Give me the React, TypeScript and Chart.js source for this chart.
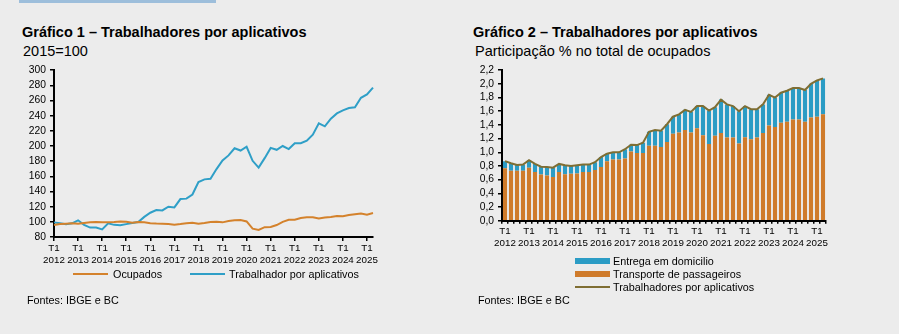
import React, { useEffect, useRef } from 'react';
import { Chart, registerables } from 'chart.js';

Chart.register(...registerables);

const FONT = '"Liberation Sans", Arial, Helvetica, sans-serif';

// Quarters 2012 T1 .. 2025 T2
const years = [2012, 2013, 2014, 2015, 2016, 2017, 2018, 2019, 2020, 2021, 2022, 2023, 2024, 2025];
const quarterNames = ['T1', 'T2', 'T3', 'T4'];

// Gráfico 1 – índice 2015=100
const ocupados = [
  95.8, 97, 97.5, 98, 97.5, 98.4, 99.3, 99.7, 99.3, 99.3, 99.7, 100.5, 100, 98.8, 99.7, 99.3,
  98.2, 97.8, 97.6, 97, 96.3, 97, 98, 98.9, 97.6, 98.4, 99.7, 100, 99.3, 101, 102, 102.5,
  100.5, 91, 89.2, 93, 93.3, 95.8, 100, 102.7, 102.7, 105, 106, 106, 104.4, 105.7, 106.5, 107.8,
  107.4, 109, 110, 111, 109.5, 111.7,
];
const trabalhadorAplicativos = [
  99.3, 98, 96.7, 98, 102, 96, 92.4, 92.4, 90, 98, 96, 95.4, 97, 98.4, 99.7, 106.5,
  112, 115.5, 115, 120, 119, 130, 130.6, 136, 152.5, 156, 156.8, 169.6, 181, 187.6, 197, 194,
  199, 180.5, 171.5, 184, 197.5, 195, 200, 196, 203.7, 203.7, 207, 215, 230, 226, 236, 243,
  247, 250, 251, 263.6, 268, 277,
];

// Gráfico 2 – participação % no total de ocupados
const transportePassageiros = [
  0.765, 0.73, 0.73, 0.73, 0.775, 0.71, 0.675, 0.66, 0.64, 0.71, 0.68, 0.685, 0.69, 0.71, 0.71, 0.74,
  0.785, 0.87, 0.895, 0.895, 0.91, 1.01, 0.99, 0.99, 1.095, 1.095, 1.076, 1.15, 1.27, 1.29, 1.325, 1.29,
  1.35, 1.25, 1.12, 1.24, 1.28, 1.215, 1.215, 1.13, 1.22, 1.19, 1.215, 1.28, 1.39, 1.37, 1.43, 1.445,
  1.48, 1.48, 1.445, 1.51, 1.52, 1.555,
];
const entregaDomicilio = [
  0.105, 0.11, 0.085, 0.09, 0.11, 0.12, 0.115, 0.125, 0.135, 0.12, 0.13, 0.115, 0.12, 0.11, 0.11, 0.115,
  0.145, 0.11, 0.105, 0.105, 0.135, 0.1, 0.115, 0.15, 0.205, 0.23, 0.24, 0.26, 0.25, 0.265, 0.295, 0.3,
  0.325, 0.425, 0.49, 0.42, 0.49, 0.485, 0.46, 0.47, 0.455, 0.44, 0.415, 0.42, 0.45, 0.43, 0.44, 0.455,
  0.46, 0.46, 0.465, 0.49, 0.53, 0.525,
];
const aplicativosParticipacao = [
  0.87, 0.84, 0.815, 0.82, 0.885, 0.83, 0.79, 0.785, 0.775, 0.83, 0.81, 0.8, 0.81, 0.82, 0.82, 0.855,
  0.93, 0.98, 1.0, 1.0, 1.045, 1.11, 1.105, 1.14, 1.3, 1.325, 1.315, 1.41, 1.52, 1.555, 1.62, 1.59,
  1.675, 1.675, 1.61, 1.66, 1.77, 1.7, 1.675, 1.6, 1.675, 1.63, 1.63, 1.7, 1.84, 1.8, 1.87, 1.9,
  1.94, 1.94, 1.91, 2.0, 2.05, 2.08,
];

const categories: (string | string[])[] = [];
years.forEach((y) =>
  quarterNames.forEach((q, qi) => categories.push(qi === 0 ? [q, String(y)] : ''))
);
const labels = categories.slice(0, ocupados.length);

const C_BLUE_LINE = '#2f9fc7';
const C_ORANGE_LINE = '#d4822c';
const C_BLUE_BAR = '#2b9cc5';
const C_ORANGE_BAR = '#cf7b2b';
const C_OLIVE = '#7f6e33';
const BG = '#ececec';

const xTickFont = { family: FONT, size: 9.8, lineHeight: 1.22 };
const yTickFont = { family: FONT, size: 10.3 };

function Chart1() {
  const ref = useRef<HTMLCanvasElement | null>(null);
  useEffect(() => {
    if (!ref.current) return;
    const chart = new Chart(ref.current, {
      type: 'line',
      data: {
        labels,
        datasets: [
          {
            label: 'Ocupados',
            data: ocupados,
            borderColor: C_ORANGE_LINE,
            borderWidth: 2,
            pointRadius: 0,
            tension: 0,
          },
          {
            label: 'Trabalhador por aplicativos',
            data: trabalhadorAplicativos,
            borderColor: C_BLUE_LINE,
            borderWidth: 2,
            pointRadius: 0,
            tension: 0,
          },
        ],
      },
      options: {
        animation: false,
        responsive: false,
        maintainAspectRatio: false,
        layout: { padding: { left: 0, right: 17, top: 6, bottom: 0 } },
        plugins: { legend: { display: false }, tooltip: { enabled: false } },
        scales: {
          x: {
            type: 'category',
            offset: false,
            grid: {
              display: true,
              drawOnChartArea: false,
              drawTicks: true,
              tickLength: 4,
              lineWidth: 1.5,
              color: (ctx: any) => (ctx.index % 4 === 0 ? '#000' : 'rgba(0,0,0,0)'),
            },
            border: { display: true, color: '#000', width: 2 },
            ticks: {
              autoSkip: false,
              maxRotation: 0,
              minRotation: 0,
              padding: 1,
              color: '#000',
              font: xTickFont,
            },
            afterFit: (s: any) => {
              s.height = 33;
            },
          },
          y: {
            min: 80,
            max: 300,
            grid: {
              display: true,
              drawOnChartArea: false,
              drawTicks: true,
              tickLength: 4,
              lineWidth: 1.5,
              color: '#000',
            },
            border: { display: true, color: '#000', width: 2 },
            ticks: { stepSize: 20, autoSkip: false, padding: 4, color: '#000', font: yTickFont },
            afterFit: (s: any) => {
              s.width = 54;
            },
          },
        },
      },
    } as any);
    return () => chart.destroy();
  }, []);
  return (
    <canvas
      ref={ref}
      width={390}
      height={210}
      style={{ position: 'absolute', left: 0, top: 60, width: 390, height: 210 }}
    />
  );
}

function Chart2() {
  const ref = useRef<HTMLCanvasElement | null>(null);
  useEffect(() => {
    if (!ref.current) return;
    const chart = new Chart(ref.current, {
      type: 'bar',
      data: {
        labels,
        datasets: [
          {
            type: 'line',
            label: 'Trabalhadores por aplicativos',
            data: aplicativosParticipacao,
            borderColor: C_OLIVE,
            borderWidth: 2,
            pointRadius: 0,
            tension: 0,
            stack: 'total',
            order: 0,
          },
          {
            type: 'bar',
            label: 'Transporte de passageiros',
            data: transportePassageiros,
            backgroundColor: C_ORANGE_BAR,
            stack: 'bars',
            order: 1,
            categoryPercentage: 1,
            barPercentage: 0.68,
          },
          {
            type: 'bar',
            label: 'Entrega em domicilio',
            data: entregaDomicilio,
            backgroundColor: C_BLUE_BAR,
            stack: 'bars',
            order: 1,
            categoryPercentage: 1,
            barPercentage: 0.68,
          },
        ],
      },
      options: {
        animation: false,
        responsive: false,
        maintainAspectRatio: false,
        layout: { padding: { left: 0, right: 14, top: 7, bottom: 0 } },
        plugins: { legend: { display: false }, tooltip: { enabled: false } },
        scales: {
          x: {
            type: 'category',
            stacked: true,
            offset: true,
            grid: {
              display: true,
              drawOnChartArea: false,
              drawTicks: true,
              tickLength: 3,
              lineWidth: 1.5,
              color: '#000',
            },
            border: { display: true, color: '#000', width: 2 },
            ticks: {
              autoSkip: false,
              maxRotation: 0,
              minRotation: 0,
              padding: 2,
              color: '#000',
              font: xTickFont,
            },
            afterFit: (s: any) => {
              s.height = 39.3;
            },
          },
          y: {
            stacked: true,
            min: 0,
            max: 2.2,
            grid: {
              display: true,
              drawOnChartArea: false,
              drawTicks: true,
              tickLength: 4,
              lineWidth: 1.5,
              color: '#000',
            },
            border: { display: true, color: '#000', width: 2 },
            ticks: {
              stepSize: 0.2,
              autoSkip: false,
              padding: 4,
              color: '#000',
              font: yTickFont,
              callback: (v: any) => Number(v).toFixed(1).replace('.', ','),
            },
            afterFit: (s: any) => {
              s.width = 52;
            },
          },
        },
      },
    } as any);
    return () => chart.destroy();
  }, []);
  return (
    <canvas
      ref={ref}
      width={390}
      height={200}
      style={{ position: 'absolute', left: 450, top: 60, width: 390, height: 200 }}
    />
  );
}

const textBase: React.CSSProperties = {
  position: 'absolute',
  fontFamily: FONT,
  color: '#000',
  whiteSpace: 'nowrap',
  margin: 0,
};

function Txt({ left, top, size, bold, children }: any) {
  return (
    <div
      style={{
        ...textBase,
        left,
        top,
        fontSize: size,
        lineHeight: `${size}px`,
        fontWeight: bold ? 'bold' : 'normal',
      }}
    >
      {children}
    </div>
  );
}

function Swatch({ left, top, width, height, color }: any) {
  return <div style={{ position: 'absolute', left, top, width, height, background: color }} />;
}

export default function App() {
  return (
    <div
      style={{
        position: 'absolute',
        left: 0,
        top: 0,
        width: 899,
        height: 334,
        background: BG,
        overflow: 'hidden',
      }}
    >
      <Swatch left={19} top={0} width={197} height={3} color="#9dbedb" />

      <Txt left={22} top={25} size={14.5} bold>
        Gráfico 1 – Trabalhadores por aplicativos
      </Txt>
      <Txt left={23} top={44} size={14.5}>
        2015=100
      </Txt>
      <Chart1 />
      <Swatch left={73} top={273} width={35} height={2} color={C_ORANGE_LINE} />
      <Txt left={113} top={268.7} size={10.8}>
        Ocupados
      </Txt>
      <Swatch left={190} top={273} width={35} height={2} color={C_BLUE_LINE} />
      <Txt left={229} top={268.7} size={10.8}>
        Trabalhador por aplicativos
      </Txt>
      <Txt left={27} top={295.4} size={10.8}>
        Fontes: IBGE e BC
      </Txt>

      <Txt left={473} top={24.5} size={14.5} bold>
        Gráfico 2 – Trabalhadores por aplicativos
      </Txt>
      <Txt left={475} top={44} size={14.5}>
        Participação % no total de ocupados
      </Txt>
      <Chart2 />
      <Swatch left={575} top={258} width={35} height={6} color={C_BLUE_BAR} />
      <Txt left={613} top={255.7} size={10.8}>
        Entrega em domicilio
      </Txt>
      <Swatch left={575} top={271} width={35} height={6} color={C_ORANGE_BAR} />
      <Txt left={613} top={268.7} size={10.8}>
        Transporte de passageiros
      </Txt>
      <Swatch left={575} top={286} width={35} height={2} color={C_OLIVE} />
      <Txt left={613} top={281.7} size={10.8}>
        Trabalhadores por aplicativos
      </Txt>
      <Txt left={478} top={294.7} size={10.8}>
        Fontes: IBGE e BC
      </Txt>
    </div>
  );
}
